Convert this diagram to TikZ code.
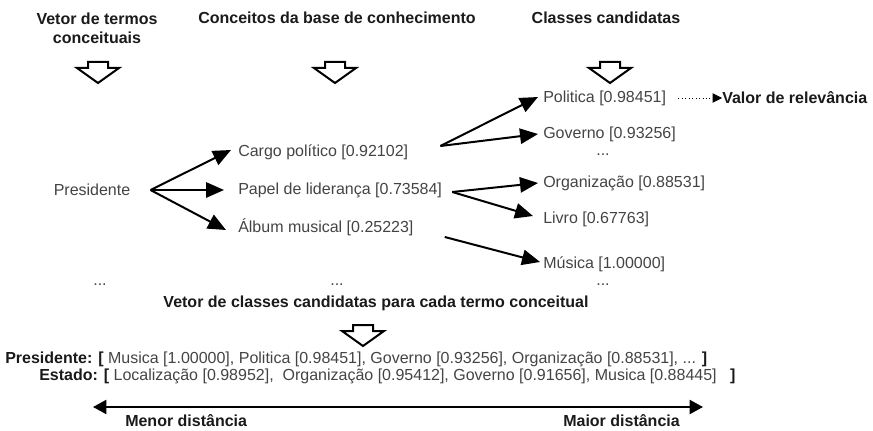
\documentclass[tikz,border=0pt]{standalone}
\usepackage{fontspec}
\setmainfont{Liberation Sans}
\usetikzlibrary{arrows.meta,calc}
\definecolor{txt}{HTML}{444444}
\definecolor{btxt}{HTML}{1A1A1A}
\tikzset{
  lbl/.style={inner sep=0pt, font=\fontsize{12}{14}\selectfont, text=txt},
  blbl/.style={inner sep=0pt, font=\fontsize{12}{14}\selectfont\bfseries, text=btxt},
  conn/.style={line width=1.5pt, draw=black, -{Triangle[length=13.5pt,width=11.5pt]}},
  dconn/.style={line width=1.5pt, draw=black, {Triangle[length=10pt,width=10.5pt]}-{Triangle[length=10pt,width=10.5pt]}},
  rel/.style={line width=0.6pt, dotted, draw=black, -{Triangle[length=7pt,width=7pt]}},
  hollow/.pic={\draw[line width=1.5pt, line join=miter, fill=white]
     (-10,0)--(10,0)--(10,6)--(21,6)--(0,21)--(-21,6)--(-10,6)--cycle;}
}
\begin{document}
\begin{tikzpicture}[x=0.75pt,y=-0.75pt]
\useasboundingbox (0,0) rectangle (873,431);
% headers
\node[blbl, align=center] (h1) at (97,28) {Vetor de termos\\conceituais};
\node[blbl] (h2) at (337,18) {Conceitos da base de conhecimento};
\node[blbl] (h3) at (606,18) {Classes candidatas};
\pic at (98,62) {hollow};
\pic at (335,62) {hollow};
\pic at (610,62) {hollow};
% first column
\node[lbl] (pres) at (92,190) {Presidente};
\node[lbl] (d1) at (100,285) {...};
% concepts
\node[lbl, anchor=west] (cargo) at (238,152) {Cargo político [0.92102]};
\node[lbl, anchor=west] (papel) at (238,190) {Papel de liderança [0.73584]};
\node[lbl, anchor=west] (album) at (238,227) {Álbum musical [0.25223]};
\node[lbl] (d2) at (337,285) {...};
% classes
\node[lbl, anchor=west] (pol) at (543,98) {Politica [0.98451]};
\node[lbl, anchor=west] (gov) at (543,134) {Governo [0.93256]};
\node[lbl] (d3) at (603,155) {...};
\node[lbl, anchor=west] (org) at (543,183) {Organização [0.88531]};
\node[lbl, anchor=west] (liv) at (543,219) {Livro [0.67763]};
\node[lbl, anchor=west] (mus) at (543,264) {Música [1.00000]};
\node[lbl] (d4) at (603,285) {...};
\node[blbl, anchor=west] (val) at (722,98) {Valor de relevância};
% connectors
\coordinate (ps) at ($(pres.east)+(20,0)$);
\draw[conn] (ps) -- ($(cargo.west)+(-7,-2)$);
\draw[conn] (ps) -- ($(papel.west)+(-14,0)$);
\draw[conn] (ps) -- ($(album.west)+(-12,3)$);
\coordinate (cs) at ($(cargo.east)+(32,-6)$);
\draw[conn] (cs) -- ($(pol.west)+(-5,-1)$);
\draw[conn] (cs) -- ($(gov.west)+(-5,0)$);
\coordinate (pss) at ($(papel.east)+(10,2)$);
\draw[conn] (pss) -- ($(org.west)+(-5,0)$);
\draw[conn] (pss) -- ($(liv.west)+(-10,-3)$);
\draw[conn] ($(album.east)+(31,10)$) -- ($(mus.west)+(-3,-2)$);
\draw[rel] ($(pol.east)+(12,0)$) -- (val.west);
% bottom part
\node[blbl] (h4) at (376,303) {Vetor de classes candidatas para cada termo conceitual};
\pic at (363,325) {hollow};
\node[lbl, anchor=west] (vp) at (5,359) {\textbf{\color{btxt}Presidente: [} Musica [1.00000], Politica [0.98451], Governo [0.93256], Organização [0.88531], ... \textbf{\color{btxt}]}};
\node[lbl, anchor=west] (ve) at (39,376) {\textbf{\color{btxt}Estado: [} Localização [0.98952],\ \ Organização [0.95412], Governo [0.91656], Musica [0.88445]\ \ \ \textbf{\color{btxt}]}};
\coordinate (al) at (93,407);
\coordinate (ar) at (703,407);
\draw[dconn] (al) -- (ar);
\node[blbl, anchor=west] (men) at (125,421) {Menor distância};
\node[blbl, anchor=west] (mai) at (563,421) {Maior distância};
\end{tikzpicture}
\end{document}
